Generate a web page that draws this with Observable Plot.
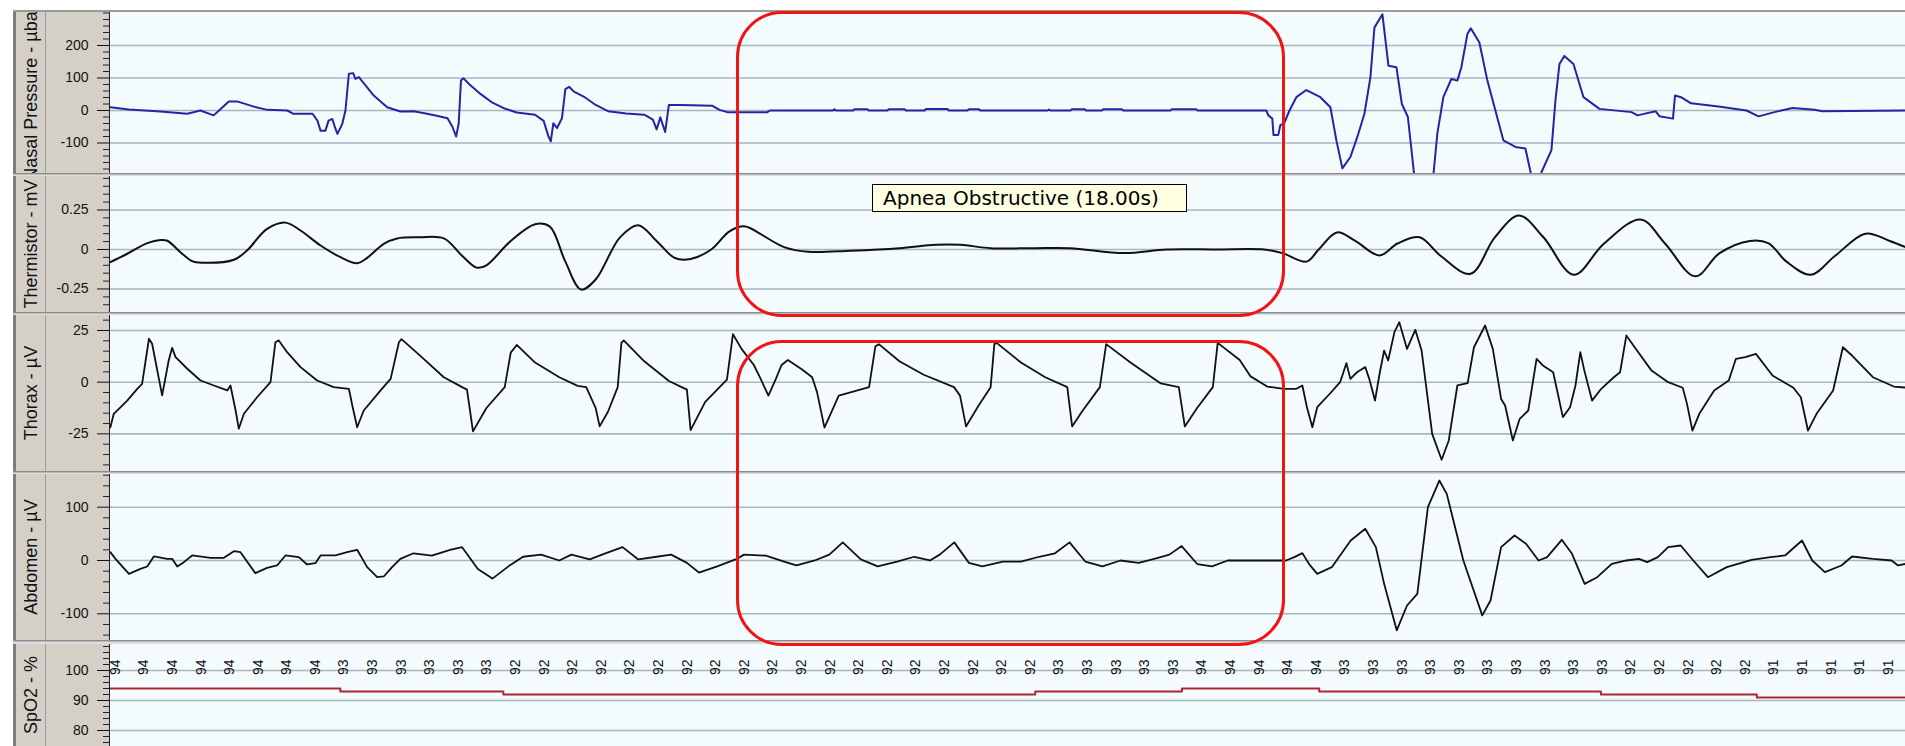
<!DOCTYPE html>
<html>
<head>
<meta charset="utf-8">
<script src="https://cdn.jsdelivr.net/npm/d3@7"></script>
<script src="https://cdn.jsdelivr.net/npm/@observablehq/plot@0.6"></script>
<style>
html, body { margin: 0; padding: 0; background: #ffffff; }
#root { position: relative; width: 1905px; height: 746px; overflow: hidden; background: #ffffff; font-family: "Liberation Sans", Arial, sans-serif; }
.panel { position: absolute; left: 0; width: 1905px; overflow: hidden;
  background: linear-gradient(to right, #ffffff 0, #ffffff 13px, #7e7e7e 13px, #7e7e7e 16px, #d4d0c8 16px, #d4d0c8 45px, #9f9b95 45px, #9f9b95 46px, #d4d0c8 46px, #d4d0c8 109px, #f4fbfd 109px); }
.sep { position: absolute; left: 13px; width: 1892px; height: 3px; background: linear-gradient(to bottom, #8c8c8c 0, #8c8c8c 1px, #b9b9b9 1px, #b9b9b9 2px, #dcdcdc 2px); }
.chan { position: absolute; left: 16px; top: 0; width: 29px; overflow: hidden; }
.chan span { position: absolute; left: 50%; top: 50%; transform: translate(-50%, -50%) rotate(-90deg); white-space: nowrap; font-size: 18px; color: #111; font-family: "Liberation Sans", Arial, sans-serif; }
.apnea { position: absolute; border: 3px solid #f01414; border-radius: 46px; box-sizing: border-box; pointer-events: none; }
.tip { position: absolute; left: 872px; top: 184px; width: 315px; height: 28px; box-sizing: border-box; border: 1px solid #000; background: #ffffe1; font-family: "DejaVu Sans", Verdana, sans-serif; font-size: 20px; line-height: 26px; padding-left: 10px; color: #000; white-space: nowrap; }
</style>
</head>
<body>
<div id="root"></div>
<script>
// ---------- data (time in seconds, values in channel units) ----------
const nasalPressure = [
  [0.03,10],[0.68,3],[1.78,-3],[2.72,-10],[3.18,0],[3.64,-15],[3.83,0],[4.17,28],[4.46,28],[5.05,12],[5.52,2],[6.22,0],
  [6.43,-10],[7.10,-10],[7.27,-31],[7.38,-62],[7.55,-62],[7.66,-31],[7.79,-26],[7.90,-56],[7.97,-72],[8.14,-41],[8.25,0],
  [8.37,113],[8.52,115],[8.60,97],[8.72,103],[9.24,46],[9.71,10],[10.17,-3],
  [10.63,-2],[11.06,-9],[11.48,-17],[11.82,-24],[11.99,-50],[12.12,-80],[12.21,-40],[12.29,92],[12.38,99],[12.59,80],
  [12.97,51],[13.39,24],[13.82,6],[14.24,-6],[14.88,-13],[15.18,-32],[15.35,-80],[15.43,-95],[15.52,-39],[15.65,-54],
  [15.82,-24],[15.94,66],[16.07,73],[16.24,58],[16.58,43],[17.0,17],[17.43,-2],[18.07,-9],[18.70,-13],[19.0,-28],
  [19.13,-58],[19.26,-21],[19.43,-66],[19.56,17],[19.98,17],[21.07,15],[21.33,2],[21.6,-5],[23.0,-5],[23.1,0],
  [25.3,0],[25.35,4],[25.4,0],[26.0,0],[26.05,4],[26.5,4],[26.55,0],[27.2,0],[27.25,4],[27.8,4],[27.85,0],[28.5,0],
  [28.55,5],[29.3,5],[29.35,0],[30.0,0],[30.05,4],[30.4,4],[30.45,0],[32.8,0],[32.85,3],[32.9,0],[33.6,0],[33.65,4],
  [34.1,4],[34.15,0],[34.7,0],[34.75,4],[35.4,4],[35.45,0],[37.1,0],[37.15,4],[38.0,4],[38.05,0],[40.45,0],
  [40.52,-15],[40.66,-25],[40.70,-75],[40.87,-75],[40.94,-45],[41.07,-40],[41.26,0],[41.50,41],[41.85,63],[42.34,41],
  [42.69,10],[42.90,-92],[43.11,-178],[43.39,-143],[43.67,-71],[43.88,-10],[44.09,102],[44.23,255],[44.51,296],
  [44.72,138],[45.0,133],[45.19,20],[45.40,-20],[45.66,-230],[46.19,-230],[46.29,-200],[46.43,-71],[46.64,41],
  [46.92,97],[47.13,92],[47.27,133],[47.48,235],[47.60,253],[47.90,209],[48.18,92],[48.74,-92],[49.16,-112],
  [49.51,-117],[49.79,-230],[50.0,-230],[50.07,-190],[50.42,-122],[50.56,31],[50.70,143],[50.87,168],[51.19,143],
  [51.54,41],[52.10,5],[53.22,-5],[53.43,-15],[54.06,-2],[54.20,-18],[54.67,-25],[54.74,46],[54.95,41],[55.30,22],
  [56.26,12],[57.24,0],[57.66,-18],[58.22,-5],[58.85,8],[59.62,2],[59.90,-2],[62.8,0]
];
const thermistor = [
  [0.03,-0.08],[0.62,-0.027],[1.32,0.04],[1.78,0.06],[2.02,0.055],[2.48,-0.017],[2.89,-0.074],[3.24,-0.084],
  [4.35,-0.065],[4.81,-0.006],[5.51,0.13],[6.15,0.17],[6.68,0.12],[7.38,0.025],[8.08,-0.049],[8.66,-0.087],
  [9.01,-0.053],[9.59,0.036],[10.06,0.07],[10.84,0.077],[11.69,0.07],[12.33,-0.04],[12.84,-0.115],[13.18,-0.10],
  [14.03,0.054],[14.88,0.16],[15.39,0.146],[15.94,-0.077],[16.49,-0.254],[17.0,-0.19],[17.85,0.077],[18.49,0.154],
  [19.13,0.054],[19.77,-0.054],[20.32,-0.06],[21.04,0],[21.68,0.115],[22.23,0.146],[22.74,0.10],[23.59,0.015],
  [24.44,-0.015],[25.93,-0.008],[27.62,0.008],[28.90,0.03],[29.75,0.03],[30.81,0.008],[32.30,0.008],[33.58,0.008],
  [35.48,-0.023],[36.97,0],[38.67,0],[40.37,0],[41.01,-0.023],[41.86,-0.077],[42.28,0],[42.92,0.108],[43.56,0.054],
  [44.41,-0.038],[45.04,0.038],[45.81,0.077],[46.53,-0.038],[47.59,-0.154],[48.44,0.077],[49.29,0.215],[50.14,0.077],
  [51.20,-0.16],[52.26,0.038],[53.54,0.19],[54.39,0.038],[55.45,-0.17],[56.30,-0.023],[57.36,0.054],[58.0,0.04],
  [58.64,-0.077],[59.49,-0.16],[60.34,-0.04],[61.40,0.10],[62.25,0.054],[62.8,0.015]
];
const thorax = [
  [0.03,-21.8],[0.15,-15.3],[0.62,-8.9],[0.97,-3.2],[1.14,-0.8],[1.38,21],[1.49,18.6],[1.84,-6.4],[2.07,10.5],
  [2.19,16.6],[2.31,12.1],[2.72,6.5],[3.18,0.8],[3.65,-1.6],[4.12,-4.0],[4.23,-1.6],[4.41,-13.7],[4.52,-22.5],
  [4.70,-15.3],[5.16,-7.3],[5.63,0],[5.80,19.3],[5.92,20.2],[6.21,14.5],[6.68,7.3],[7.26,0.8],[7.84,-2.4],[8.37,-3.2],
  [8.49,-11.3],[8.66,-21.8],[8.89,-13.7],[9.48,-4.0],[9.83,1.6],[10.12,19.3],[10.21,20.8],[10.84,13.1],[11.69,2.4],
  [12.33,-2.4],[12.50,-3.6],[12.71,-23.8],[13.18,-12.5],[13.82,-2.4],[14.03,14.3],[14.24,18],[14.88,9.5],[15.73,2.4],
  [16.37,-1.8],[16.67,-2.4],[17.0,-12.5],[17.14,-21.4],[17.43,-14.3],[17.77,-2.4],[17.90,19.0],[17.98,20.2],[18.70,10.1],
  [19.56,0.6],[20.19,-3.6],[20.32,-23.2],[20.83,-9.5],[21.59,1.2],[21.80,23.2],[22.10,16.1],[22.53,8.3],[22.74,2.4],
  [23.04,-6.5],[23.29,1.2],[23.50,8.3],[23.72,10.7],[24.23,6],[24.57,2.4],[24.74,-4.8],[25.0,-22],[25.50,-6.5],
  [26.56,-2.4],[26.78,17.3],[26.90,18.4],[27.62,10.1],[28.47,3.6],[29.53,-2.4],[29.74,-6.5],[29.95,-21.4],[30.39,-11.3],
  [30.81,-2.4],[30.94,18.4],[31.02,19.0],[31.87,9.5],[32.72,2.4],[33.49,-2.4],[33.66,-21.4],[34.0,-14.3],[34.63,-2.4],
  [34.85,18.4],[35.70,9.5],[36.76,-0.6],[37.39,-2.4],[37.60,-21.4],[38.03,-12.5],[38.58,-2.4],[38.75,19.0],[39.52,10.7],
  [39.90,2.8],[40.48,-2.1],[41.06,-3.2],[41.50,-3.2],[41.71,-1.6],[41.87,-12.1],[42.06,-21.8],[42.23,-12.1],[42.67,-5.6],
  [43.03,0],[43.25,9.2],[43.39,1.6],[43.62,4.8],[43.91,7.3],[44.06,1.1],[44.25,-8.9],[44.42,4.8],[44.57,15.3],[44.71,10.5],
  [44.93,24.2],[45.10,29.0],[45.37,16.1],[45.66,25.3],[45.88,15.3],[46.25,-25.0],[46.58,-37.5],[46.83,-28.2],[47.13,-1.6],
  [47.49,-0.5],[47.71,16.9],[48.10,27.4],[48.37,16.1],[48.66,-8.1],[48.80,-11.3],[49.07,-28.2],[49.31,-17.7],[49.61,-13.7],
  [49.90,11.3],[50.12,8.1],[50.48,4.8],[50.82,-16.9],[51.07,-12.1],[51.26,-1.6],[51.43,14.5],[51.57,5.6],[51.84,-8.9],
  [52.16,-3.2],[52.60,2.4],[52.82,4.8],[53.04,22.6],[53.33,16.9],[53.92,5.6],[54.50,0],[55.01,-2.7],[55.16,-10.5],
  [55.35,-23.4],[55.59,-15.3],[56.11,-4.0],[56.62,0.8],[56.87,11.3],[57.20,12.1],[57.57,13.7],[58.15,3.2],[58.88,-2.7],
  [59.14,-7.3],[59.39,-23.4],[59.69,-15.3],[60.27,-4.0],[60.61,16.9],[60.93,12.9],[61.66,2.4],[62.39,-2.1],[62.8,-2.6]
];
const abdomen = [
  [0.03,15.6],[0.21,3.1],[0.68,-25],[1.08,-15.6],[1.32,-11.3],[1.55,7.5],[2.02,3.1],[2.19,3.1],[2.37,-11.3],[2.60,-3.1],
  [2.89,9.4],[3.53,5.0],[4.00,5.0],[4.35,17.5],[4.58,15.6],[5.10,-23.8],[5.51,-13.8],[5.86,-9.4],[6.15,9.4],[6.62,6.3],
  [6.91,-7.5],[7.20,-5.0],[7.38,9.4],[7.90,9.4],[8.31,15.6],[8.66,20.0],[9.01,-12.5],[9.36,-31.3],[9.59,-30],[9.88,-12.5],
  [10.17,3.1],[10.63,13.5],[11.27,9],[11.91,20],[12.33,25],[12.88,-16],[13.39,-34],[13.95,-11],[14.46,7],[15.09,11],
  [15.73,0],[16.15,11],[16.79,2],[17.34,13.5],[17.94,25],[18.49,2],[19.13,7],[19.64,11],[20.19,-4.5],[20.61,-22.6],
  [21.25,-11],[21.89,2],[22.19,11],[22.95,9],[23.59,-2],[24.02,-9],[24.66,0],[25.17,11],[25.64,34],[26.27,2],[26.86,-11],
  [27.54,-2],[28.14,7],[28.69,0],[29.03,11],[29.54,34],[30.05,-4.5],[30.52,-11],[31.24,-2],[31.87,-2],[32.51,7],
  [33.06,13.5],[33.57,34],[34.12,-2],[34.72,-11],[35.35,0],[35.99,-4.5],[36.63,4.5],[37.06,11],[37.49,27],[38.04,-7],
  [38.55,-11],[39.10,0],[39.90,0],[41.14,0],[41.43,6.3],[41.71,13.8],[41.94,-6.3],[42.23,-25],[42.74,-12.5],[43.40,37.5],
  [43.91,59.4],[44.28,25],[44.57,-43.8],[45.01,-131],[45.37,-84.4],[45.73,-62.5],[46.10,100],[46.50,150],[46.76,125],
  [47.34,0],[48.0,-103],[48.29,-75],[48.66,25],[49.13,46.9],[49.53,31.3],[49.97,0],[50.27,6.3],[50.78,38.8],[51.14,12.5],
  [51.58,-43.8],[52.02,-31.3],[52.53,-6.3],[53.04,0],[53.48,3.1],[53.77,-3.1],[54.14,6.3],[54.50,25],[54.94,28.1],
  [55.38,0],[55.89,-31.3],[56.55,-12.5],[57.42,1.3],[58.08,6.3],[58.59,9.4],[59.18,37.5],[59.54,0],[59.98,-21.9],
  [60.56,-9.4],[60.93,7.5],[61.66,3.1],[62.31,0],[62.54,-9.4],[62.8,-6.3]
];
// SpO2: step changes (time, %) and the per-second readings printed along the top of the channel
const spo2Steps = [[0,94],[8.07,93],[13.77,92],[32.37,93],[37.5,94],[42.3,93],[52.15,92],[57.6,91],[62.8,91]];
const spo2Readings = [94,94,94,94,94,94,94,94, 93,93,93,93,93,93,
  92,92,92,92,92,92,92,92,92,92,92,92,92,92,92,92,92,92,92,
  93,93,93,93,93, 94,94,94,94,94, 93,93,93,93,93,93,93,93,93,93, 92,92,92,92,92, 91,91,91,91,91];
const spo2FirstReadingTime = 0.2;

// axis tick labels
const nasalTicks = [-100, 0, 100, 200];
const thermistorTicks = [-0.25, 0, 0.25];
const thoraxTicks = [-25, 0, 25];
const abdomenTicks = [-100, 0, 100];
const spo2Ticks = [80, 90, 100];

// event
const apneaLabel = "Apnea Obstructive (18.00s)";
const timeDomain = [0, 62.8];

// ---------- layout ----------
function minorTicks(lo, hi, step, majors) {
  const out = [];
  for (let k = Math.ceil(lo / step - 1e-9); k * step <= hi + 1e-9; k++) {
    const v = +(k * step).toFixed(4);
    if (!majors.some(m => Math.abs(m - v) < 1e-9)) out.push(v);
  }
  return out;
}

const panels = [
  {name: "Nasal Pressure - µbar", top: 12, h: 161, domain: [-193.8, 301.5], major: nasalTicks,
   minor: minorTicks(-180, 300, 20, nasalTicks), data: nasalPressure, stroke: "#2424a4", sw: 2, curve: "linear"},
  {name: "Thermistor - mV", top: 176, h: 136, domain: [-0.399, 0.462], major: thermistorTicks,
   minor: minorTicks(-0.4, 0.45, 0.05, thermistorTicks), data: thermistor, stroke: "#111", sw: 2, curve: "catmull-rom"},
  {name: "Thorax - µV", top: 315, h: 156, domain: [-43.2, 32.25], major: thoraxTicks,
   minor: minorTicks(-40, 30, 5, thoraxTicks), data: thorax, stroke: "#111", sw: 1.8, curve: "linear"},
  {name: "Abdomen - µV", top: 474, h: 166, domain: [-150.1, 161.3], major: abdomenTicks,
   minor: minorTicks(-140, 160, 20, abdomenTicks), data: abdomen, stroke: "#111", sw: 1.8, curve: "linear"},
  {name: "SpO2 - %", top: 644, h: 102, domain: [74.67, 108.67], major: spo2Ticks,
   minor: minorTicks(76, 108, 2, spo2Ticks), data: spo2Steps, stroke: "#b0262e", sw: 2, curve: "step-after", spo2: true}
];

const root = document.getElementById("root");
const topLine = document.createElement("div");
topLine.style.cssText = "position:absolute;left:13px;top:10px;width:1892px;height:2px;background:#9a9a9a";
root.appendChild(topLine);

panels.forEach(p => {
  const div = document.createElement("div");
  div.className = "panel";
  div.style.top = p.top + "px";
  div.style.height = p.h + "px";

  const marks = [
    Plot.frame({fill: "#f4fbfd", stroke: "none"}),
    Plot.ruleY(p.major, {stroke: "#a5b7c0", strokeWidth: 1.6}),
    Plot.line(p.data, {x: d => d[0], y: d => d[1], stroke: p.stroke, strokeWidth: p.sw, curve: p.curve, clip: true}),
    Plot.ruleX([timeDomain[0]], {stroke: "#222", strokeWidth: 1}),
    Plot.axisY(p.minor, {anchor: "left", tickSize: 6, tickFormat: () => "", label: null, color: "#222"}),
    Plot.axisY(p.major, {anchor: "left", tickSize: 12, tickPadding: 9, tickFormat: d => String(d), label: null, color: "#111", fontSize: 14})
  ];
  if (p.spo2) {
    marks.push(Plot.text(spo2Readings, {
      x: (d, i) => i + spo2FirstReadingTime, y: () => 101.1, text: d => String(d),
      rotate: -90, fontSize: 14, fill: "#111"
    }));
  }
  const svg = Plot.plot({
    width: 1905, height: p.h,
    marginLeft: 109, marginRight: 0, marginTop: 0, marginBottom: 0,
    x: {domain: timeDomain, axis: null},
    y: {domain: p.domain},
    style: {background: "transparent", overflow: "visible", fontFamily: "Liberation Sans, Arial, sans-serif", fontSize: "14px", color: "#111"},
    marks
  });
  svg.style.position = "absolute";
  svg.style.left = "0px";
  svg.style.top = "0px";
  div.appendChild(svg);

  const chan = document.createElement("div");
  chan.className = "chan";
  chan.style.height = p.h + "px";
  const span = document.createElement("span");
  span.textContent = p.name;
  chan.appendChild(span);
  div.appendChild(chan);

  root.appendChild(div);
});

[173, 312, 471, 640].forEach(y => {
  const s = document.createElement("div");
  s.className = "sep";
  s.style.top = y + "px";
  if (y === 640) s.style.height = "4px";
  root.appendChild(s);
});

// apnea event highlights
[[736, 11, 549, 306], [736, 340, 549, 306]].forEach(([l, t, w, h]) => {
  const r = document.createElement("div");
  r.className = "apnea";
  r.style.left = l + "px"; r.style.top = t + "px";
  r.style.width = w + "px"; r.style.height = h + "px";
  root.appendChild(r);
});
const tip = document.createElement("div");
tip.className = "tip";
tip.textContent = apneaLabel;
root.appendChild(tip);
</script>
</body>
</html>
